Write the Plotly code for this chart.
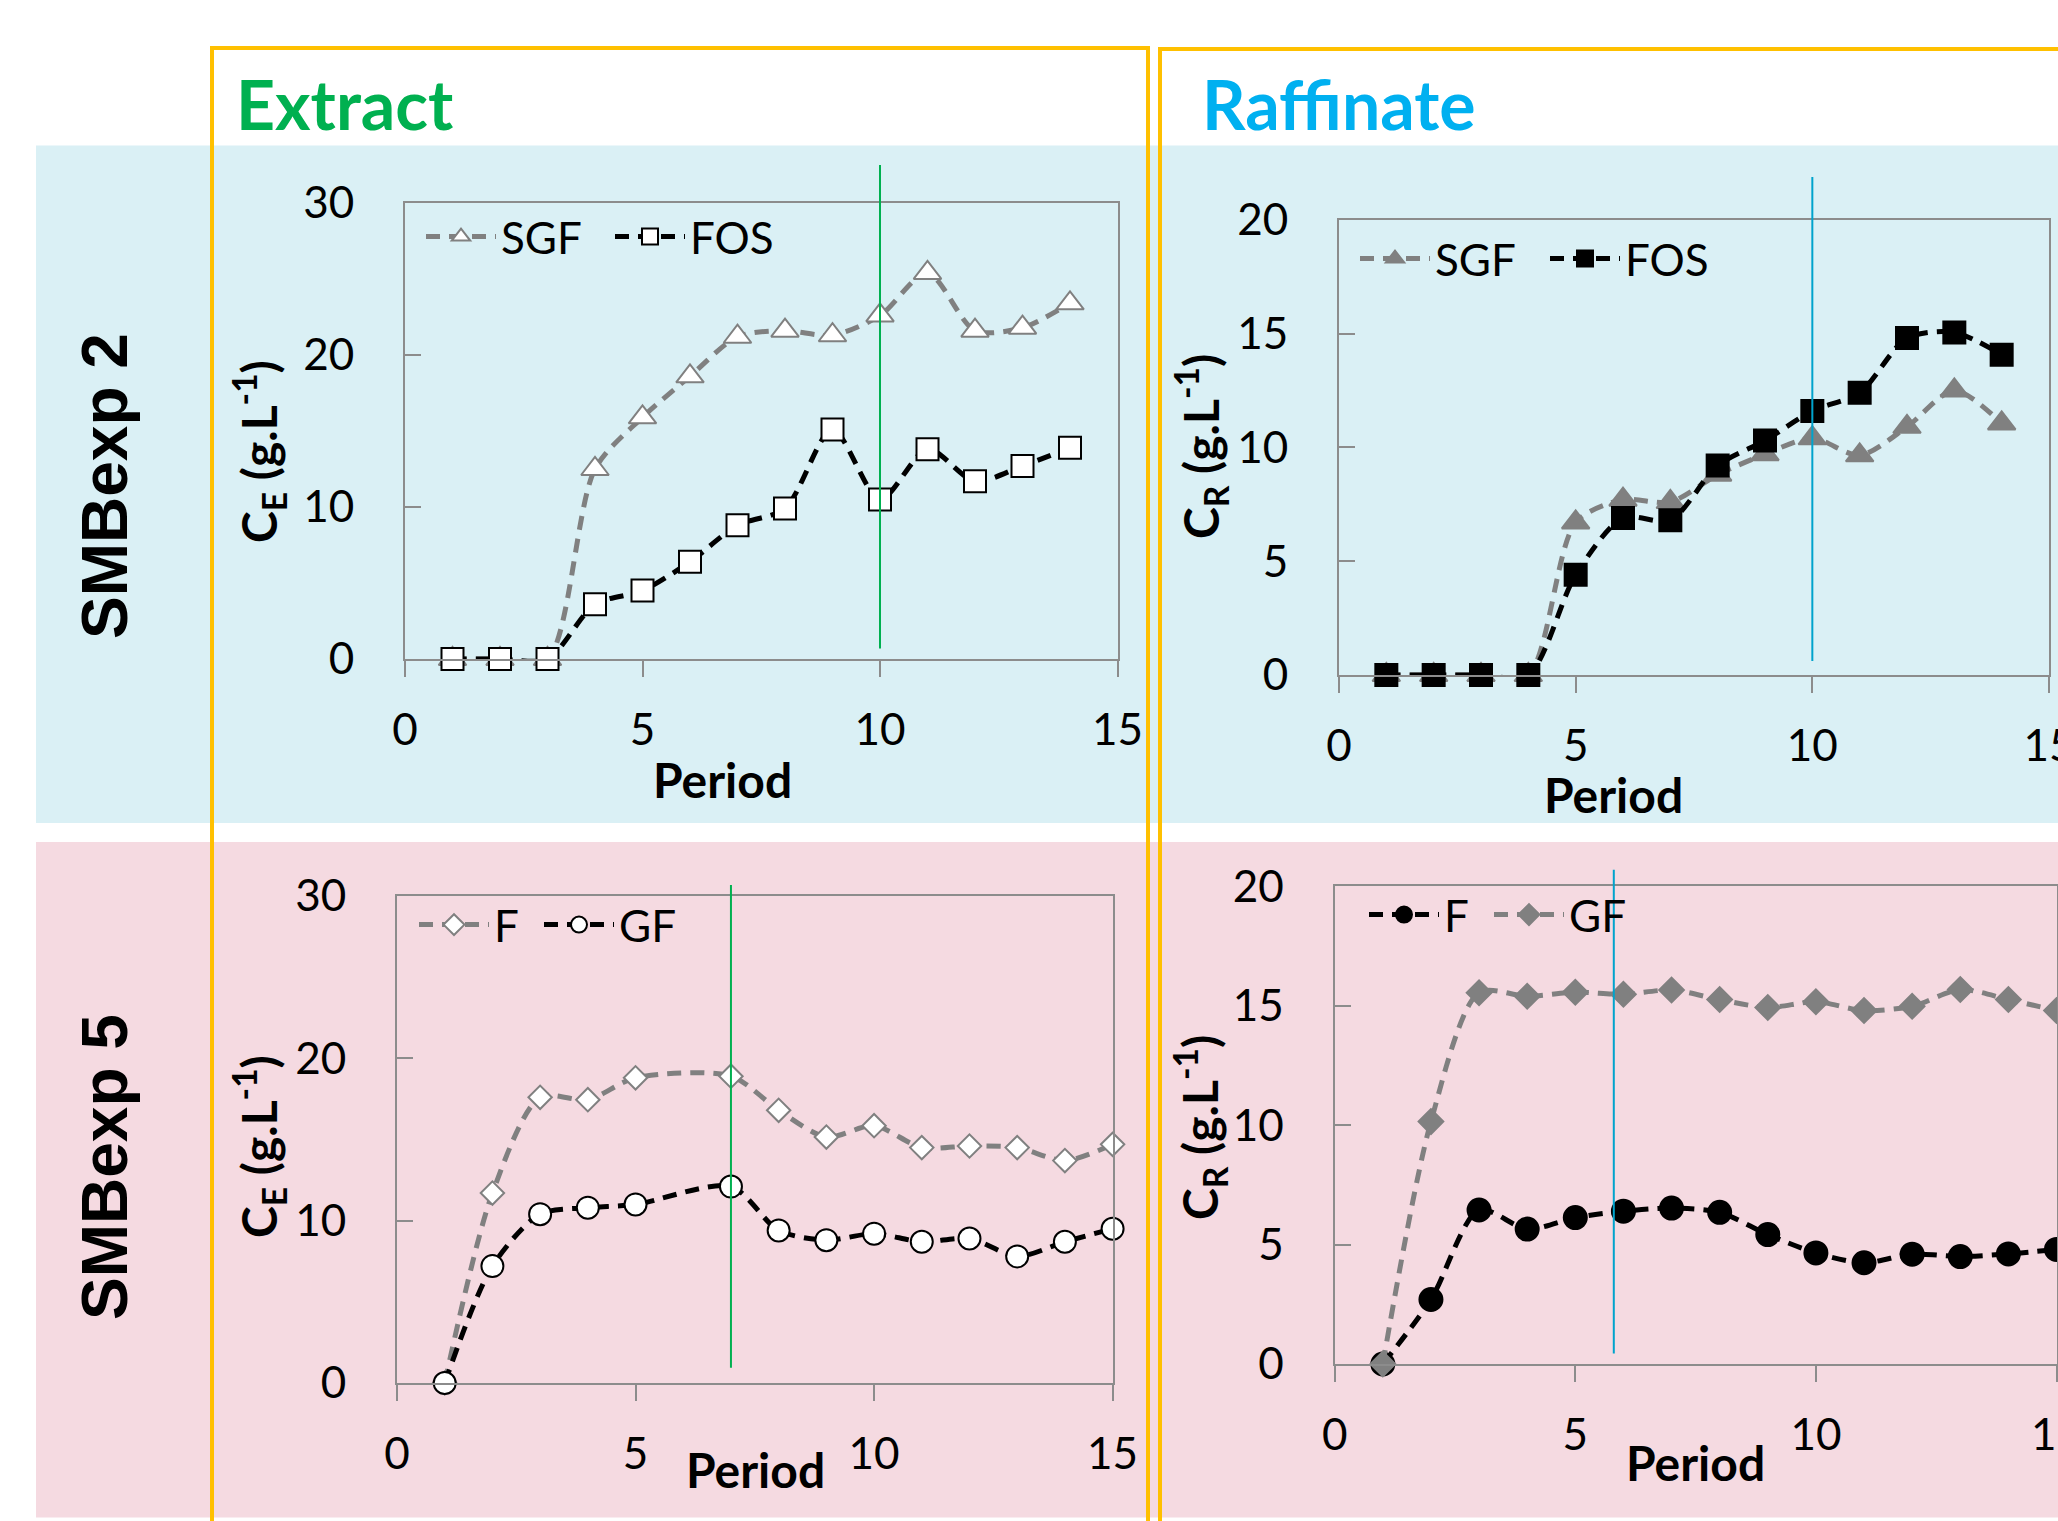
import plotly.graph_objects as go

# ---------------- data ----------------
ext2_period = [1, 2, 3, 4, 5, 6, 7, 8, 9, 10, 11, 12, 13, 14]
ext2_sgf = [0, 0, 0, 12.5, 15.9, 18.6, 21.2, 21.6, 21.3, 22.6, 25.4, 21.6, 21.8, 23.4]
ext2_fos = [0, 0, 0, 3.6, 4.5, 6.4, 8.8, 9.9, 15.1, 10.5, 13.8, 11.7, 12.7, 13.9]

raf2_period = [1, 2, 3, 4, 5, 6, 7, 8, 9, 10, 11, 12, 13, 14]
raf2_sgf = [0, 0, 0, 0, 6.7, 7.7, 7.6, 8.8, 9.7, 10.4, 9.65, 10.9, 12.5, 11.05]
raf2_fos = [0, 0, 0, 0, 4.4, 6.9, 6.8, 9.2, 10.3, 11.6, 12.4, 14.8, 15.05, 14.07]

ext5_period = [1, 2, 3, 4, 5, 7, 8, 9, 10, 11, 12, 13, 14, 15]
ext5_f = [0, 11.7, 17.6, 17.45, 18.8, 18.9, 16.8, 15.15, 15.85, 14.5, 14.6, 14.5, 13.7, 14.7]
ext5_gf = [0, 7.2, 10.4, 10.8, 11.0, 12.1, 9.4, 8.8, 9.2, 8.7, 8.9, 7.8, 8.7, 9.5]

raf5_period = [1, 2, 3, 4, 5, 6, 7, 8, 9, 10, 11, 12, 13, 14, 15]
raf5_f = [0, 2.7, 6.45, 5.65, 6.13, 6.4, 6.53, 6.35, 5.42, 4.65, 4.24, 4.6, 4.5, 4.61, 4.8]
raf5_gf = [0, 10.15, 15.55, 15.4, 15.57, 15.48, 15.66, 15.26, 14.93, 15.17, 14.8, 14.98, 15.68, 15.26, 14.8]

switch_period = [10, 10, 7, 5.8]          # vertical marker lines per panel
x_range = [0, 15]
y_ranges = [[0, 30], [0, 20], [0, 30], [0, 20]]
y_dticks = [10, 5, 10, 5]
row_labels = ["SMBexp 2", "SMBexp 5"]
col_labels = ["Extract", "Raffinate"]
y_titles = ["C<sub>E</sub> (g.L<sup>-1</sup>)", "C<sub>R</sub> (g.L<sup>-1</sup>)",
            "C<sub>E</sub> (g.L<sup>-1</sup>)", "C<sub>R</sub> (g.L<sup>-1</sup>)"]
x_title = "Period"

# ---------------- styling ----------------
W, H = 2058, 1521
def px(x): return x / W
def py(y): return 1 - y / H

GRAY = "#808080"
BLACK = "#000000"
AXIS = "#8c8c8c"
FONT = "Lato"
DASH = "14px,9px"
LW = 5

fig = go.Figure()

def add(x, y, name, color, symbol, size, fill, lcolor, xa, ya, leg):
    fig.add_trace(go.Scatter(
        x=x, y=y, name=name, mode="lines+markers",
        line=dict(color=color, width=LW, dash=DASH, shape="spline", smoothing=0.8),
        marker=dict(symbol=symbol, size=size, color=fill, line=dict(color=lcolor, width=2)),
        xaxis=xa, yaxis=ya, legend=leg, cliponaxis=False))

add(ext2_period, ext2_sgf, "SGF", GRAY, "triangle-up", 24, "white", GRAY, "x", "y", "legend")
add(ext2_period, ext2_fos, "FOS", BLACK, "square", 22, "white", BLACK, "x", "y", "legend2")
add(raf2_period, raf2_sgf, "SGF", GRAY, "triangle-up", 24, GRAY, GRAY, "x2", "y2", "legend3")
add(raf2_period, raf2_fos, "FOS", BLACK, "square", 22, BLACK, BLACK, "x2", "y2", "legend4")
add(ext5_period, ext5_f, "F", GRAY, "diamond", 18, "white", GRAY, "x3", "y3", "legend5")
add(ext5_period, ext5_gf, "GF", BLACK, "circle", 22, "white", BLACK, "x3", "y3", "legend6")
add(raf5_period, raf5_f, "F", BLACK, "circle", 23, BLACK, BLACK, "x4", "y4", "legend7")
add(raf5_period, raf5_gf, "GF", GRAY, "diamond", 19, GRAY, GRAY, "x4", "y4", "legend8")

domains = [  # pixel boxes (left, right, top, bottom)
    (405, 1117.5, 203, 659),
    (1339, 2049, 219.7, 675),
    (397, 1112.6, 896, 1383),
    (1334.7, 2056.5, 886.4, 1364),
]
tickfont = dict(family=FONT, size=44, color="black")
for i, (l, r, t, b) in enumerate(domains):
    sfx = "" if i == 0 else str(i + 1)
    fig.update_layout(**{
        "xaxis" + sfx: dict(domain=[px(l), px(r)], anchor="y" + sfx, range=x_range, dtick=5,
                            ticks="outside", ticklen=16, tickwidth=2, tickcolor=AXIS,
                            showline=True, linecolor=AXIS, linewidth=2, mirror=True,
                            showgrid=False, zeroline=False, tickfont=tickfont,
                            ticklabelstandoff=15, ticklabeloverflow="allow"),
        "yaxis" + sfx: dict(domain=[py(b), py(t)], anchor="x" + sfx, range=y_ranges[i],
                            dtick=y_dticks[i], ticks="inside", ticklen=16, tickwidth=2,
                            tickcolor=AXIS, showline=True, linecolor=AXIS, linewidth=2,
                            mirror=True, showgrid=False, zeroline=False, tickfont=tickfont,
                            ticklabelstandoff=40),
    })

# legends: one legend box per entry so each sits where the reference puts it
leg_common = dict(orientation="h", bgcolor="rgba(0,0,0,0)", font=dict(family=FONT, size=44, color="black"),
                  itemwidth=70, xanchor="left", yanchor="middle")
legend_pos = [(421, 237), (610, 237), (1355, 259), (1545, 259),
              (414, 925), (539, 925), (1364, 915), (1489, 915)]
for k, (lx, ly) in enumerate(legend_pos):
    key = "legend" if k == 0 else "legend%d" % (k + 1)
    fig.update_layout(**{key: dict(x=px(lx), y=py(ly), **leg_common)})

shapes = []
# background bands
shapes.append(dict(type="rect", xref="paper", yref="paper", x0=px(36), x1=1.0, y0=py(823), y1=py(145.6),
                   fillcolor="#DAF0F5", line=dict(width=0), layer="below"))
shapes.append(dict(type="rect", xref="paper", yref="paper", x0=px(36), x1=1.0, y0=py(1517.5), y1=py(842),
                   fillcolor="#F5DAE1", line=dict(width=0), layer="below"))
# orange boxes
shapes.append(dict(type="rect", xref="paper", yref="paper", x0=px(212), x1=px(1148), y0=-0.02, y1=py(48),
                   line=dict(color="#FFC000", width=4), layer="below"))
shapes.append(dict(type="rect", xref="paper", yref="paper", x0=px(1160), x1=1.05, y0=-0.02, y1=py(49),
                   line=dict(color="#FFC000", width=4), layer="below"))
# switch lines
vcolors = ["#00B050", "#00A3CC", "#00B050", "#00A3CC"]
vy = [(165, 648.5), (177, 661), (885, 1367.7), (869.7, 1353.6)]
for i in range(4):
    sfx = "" if i == 0 else str(i + 1)
    shapes.append(dict(type="line", xref="x" + sfx, yref="paper", x0=switch_period[i], x1=switch_period[i],
                       y0=py(vy[i][1]), y1=py(vy[i][0]), line=dict(color=vcolors[i], width=2), layer="above"))

def ann(text, x, y, size, color="black", family=FONT, angle=0):
    return dict(text=text, x=px(x), y=py(y), xref="paper", yref="paper", xanchor="center",
                yanchor="middle", textangle=angle, showarrow=False,
                font=dict(family=family, size=size, color=color))

annotations = [
    ann("<b>%s</b>" % col_labels[0], 344, 103, 68, "#00B050"),
    ann("<b>%s</b>" % col_labels[1], 1339, 103, 68, "#00B0F0"),
]
for lab, yc in zip(row_labels, [486, 1167]):
    annotations.append(ann("<b>%s</b>" % lab, 105, yc, 64, family="Liberation Sans", angle=-90))
ytitle_pos = [(259, 452), (1201, 447), (259, 1147), (1200, 1128)]
xtitle_pos = [(722, 779), (1613, 794), (755, 1469), (1695, 1462)]
for i in range(4):
    annotations.append(ann("<b>%s</b>" % y_titles[i], ytitle_pos[i][0], ytitle_pos[i][1], 48, angle=-90))
    annotations.append(ann("<b>%s</b>" % x_title, xtitle_pos[i][0], xtitle_pos[i][1], 48))

fig.update_layout(width=W, height=H, margin=dict(l=0, r=0, t=0, b=0, autoexpand=False),
                  paper_bgcolor="white", plot_bgcolor="rgba(0,0,0,0)",
                  shapes=shapes, annotations=annotations, showlegend=True)

fig.write_html("out.html")
